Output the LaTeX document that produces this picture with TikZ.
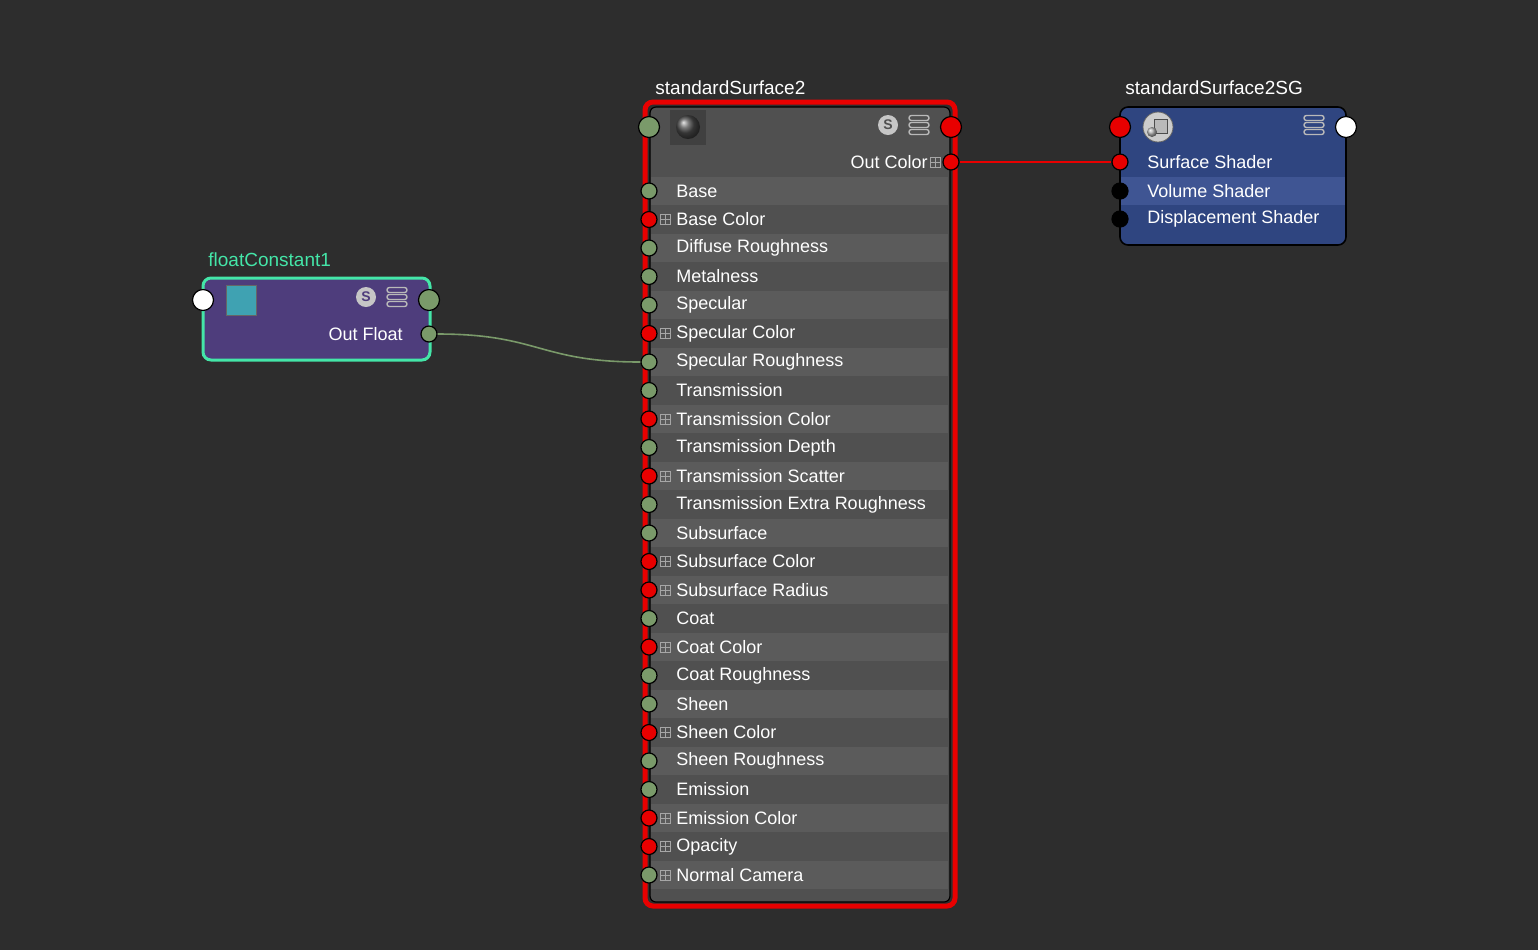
\documentclass[tikz,border=0pt]{standalone}
\usepackage{fontspec}
\setmainfont{Liberation Sans}
\definecolor{bgdark}{HTML}{2D2D2D}
\definecolor{nodegray}{HTML}{505050}
\definecolor{rowlight}{HTML}{5B5B5B}
\definecolor{portgreen}{HTML}{7A9A6A}
\definecolor{portred}{HTML}{E80000}
\definecolor{floatpurple}{HTML}{4E3D7C}
\definecolor{floatedge}{HTML}{44E6A8}
\definecolor{sgblue}{HTML}{2F4580}
\definecolor{sglight}{HTML}{3F5593}
\definecolor{swatchteal}{HTML}{3FA2B2}
\tikzset{
  port/.style={circle, draw=black, line width=0.6pt, inner sep=0pt, minimum size=8pt},
  bigport/.style={port, minimum size=10.5pt},
  attr/.style={anchor=west, text=white, font=\fontsize{9}{10}\selectfont, inner sep=0pt},
  title/.style={anchor=west, text=white, font=\fontsize{9.5}{10}\selectfont, inner sep=0pt},
  plusbox/.style={draw=gray!70, line width=0.4pt, minimum size=5pt, inner sep=0pt,
    path picture={\draw[gray!70,line width=0.4pt] (path picture bounding box.west) -- (path picture bounding box.east)
      (path picture bounding box.north) -- (path picture bounding box.south);}},
  sicon/.style={circle, fill=gray!45, text=nodegray, inner sep=0pt, minimum size=10pt, font=\fontsize{7}{7}\selectfont\bfseries},
}
\newcommand{\menuicon}[2]{%
  \foreach \k in {-1,0,1}
    \draw[gray!55, line width=0.7pt, rounded corners=1.2pt] (#1-10,#2+\k*7-2.5) rectangle (#1+10,#2+\k*7+2.5);}
\begin{document}
\begin{tikzpicture}[x=0.5pt,y=-0.5pt]
	% Background
	\fill[bgdark] (0,0) rectangle (1538,950);
	\useasboundingbox (0,0) rectangle (1538,950);
	% standardSurface2
	\node[title] (sstitle) at (655,88) {standardSurface2};
	\draw[portred, line width=2.5pt, rounded corners=4pt] (645,102) rectangle (955,906);
	\fill[nodegray, rounded corners=3pt] (650,107) rectangle (950,902);
	\draw[black, line width=0.6pt, rounded corners=3pt] (650,107) rectangle (950,902);
	\fill[black!75] (670,110) rectangle (706,145);
	\shade[ball color=black!70] (688,127) circle (12);
	\node[sicon] (ssS) at (888,125) {S};
	\menuicon{919}{125}
	\node[bigport, fill=portgreen] (ssin) at (649,127) {};
	\node[bigport, fill=portred] (ssout) at (951,127) {};
	\node[port, fill=portred] (oc) at (951,162) {};
	\node[plusbox] (ocplus) at (935,162) {};
	\node[attr, anchor=east] (octext) at (928,162) {Out Color};
	% attributes: name / port colour / plus box
	\foreach \name/\pc/\pl [count=\i from 0] in {
	  Base/portgreen/0, Base Color/portred/1, Diffuse Roughness/portgreen/0,
	  Metalness/portgreen/0, Specular/portgreen/0, Specular Color/portred/1,
	  Specular Roughness/portgreen/0, Transmission/portgreen/0, Transmission Color/portred/1,
	  Transmission Depth/portgreen/0, Transmission Scatter/portred/1,
	  Transmission Extra Roughness/portgreen/0, Subsurface/portgreen/0,
	  Subsurface Color/portred/1, Subsurface Radius/portred/1, Coat/portgreen/0,
	  Coat Color/portred/1, Coat Roughness/portgreen/0, Sheen/portgreen/0,
	  Sheen Color/portred/1, Sheen Roughness/portgreen/0, Emission/portgreen/0,
	  Emission Color/portred/1, Opacity/portred/1, Normal Camera/portgreen/1}{
	  \pgfmathsetmacro{\yy}{191+28.5*\i}
	  \ifodd\i\else\fill[rowlight] (651,\yy-14) rectangle (948,\yy+14);\fi
	  \node[attr] (a\i) at (676,\yy) {\name};
	  \ifnum\pl=1 \node[plusbox] at (665,\yy) {};\fi
	  \node[port, fill=\pc] (p\i) at (649,\yy) {};
	}
	% floatConstant1
	\node[title, text=floatedge] (fctitle) at (208,260) {floatConstant1};
	\draw[floatedge, line width=1.5pt, fill=floatpurple, rounded corners=4pt] (203,278) rectangle (430,360);
	\fill[swatchteal] (226,285) rectangle (256,315);
	\draw[black!60, line width=0.4pt] (226,285) rectangle (256,315);
	\node[sicon, text=floatpurple] (fcS) at (366,297) {S};
	\menuicon{397}{297}
	\node[bigport, fill=white] (fcin) at (203,300) {};
	\node[bigport, fill=portgreen] (fcout) at (429,300) {};
	\node[port, fill=portgreen] (of) at (429,334) {};
	\node[attr, anchor=east] (oftext) at (403,334) {Out Float};
	% standardSurface2SG
	\node[title] (sgtitle) at (1125,88) {standardSurface2SG};
	\draw[black, line width=0.8pt, fill=sgblue, rounded corners=4pt] (1120,107) rectangle (1346,245);
	\fill[sglight] (1121,177) rectangle (1345,205);
	\node[circle, fill=gray!40, draw=black!60, minimum size=15pt, inner sep=0pt] (sgicon) at (1158,127) {};
	\draw[black!70, fill=gray!55, line width=0.5pt] (1154,119) rectangle (1167,133);
	\shade[ball color=gray!60] (1152,132) circle (5);
	\menuicon{1314}{125}
	\node[bigport, fill=portred] (sgin) at (1120,127) {};
	\node[bigport, fill=white] (sgout) at (1346,127) {};
	\node[port, fill=portred] (ss) at (1120,162) {};
	\node[port, fill=black] (vs) at (1120,191) {};
	\node[port, fill=black] (ds) at (1120,219) {};
	\node[attr] (sstext) at (1147,162) {Surface Shader};
	\node[attr] (vstext) at (1147,191) {Volume Shader};
	\node[attr] (dstext) at (1147,219) {Displacement Shader};
	% Connections
	\draw[portred, line width=0.8pt] (oc) -- (ss);
	\draw[portgreen, line width=0.8pt] (of) .. controls +(110,0) and +(-110,0) .. (p6);
\end{tikzpicture}
\end{document}
